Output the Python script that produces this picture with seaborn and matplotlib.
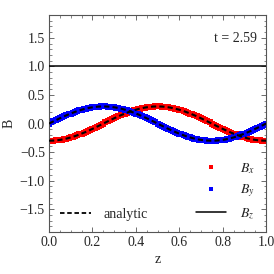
import matplotlib
matplotlib.use("Agg")
import matplotlib.pyplot as plt
import pandas as pd
import seaborn as sns
from matplotlib.ticker import MultipleLocator
from matplotlib.lines import Line2D

# sampled field components, z = 0.00 .. 1.00 step 0.01
z = [round(0.01 * k, 2) for k in range(101)]
bx = [-0.300, -0.299, -0.298, -0.295, -0.291, -0.285, -0.279, -0.271, -0.263, -0.253,
      -0.243, -0.231, -0.219, -0.205, -0.191, -0.176, -0.161, -0.145, -0.128, -0.110,
      -0.093, -0.075, -0.056, -0.038, -0.019, 0.000,
      0.019, 0.038, 0.056, 0.075, 0.093, 0.110, 0.128, 0.145, 0.161, 0.176,
      0.191, 0.205, 0.219, 0.231, 0.243, 0.253, 0.263, 0.271, 0.279, 0.285,
      0.291, 0.295, 0.298, 0.299, 0.300,
      0.299, 0.298, 0.295, 0.291, 0.285, 0.279, 0.271, 0.263, 0.253, 0.243,
      0.231, 0.219, 0.205, 0.191, 0.176, 0.161, 0.145, 0.128, 0.110, 0.093,
      0.075, 0.056, 0.038, 0.019, 0.000,
      -0.019, -0.038, -0.056, -0.075, -0.093, -0.110, -0.128, -0.145, -0.161, -0.176,
      -0.191, -0.205, -0.219, -0.231, -0.243, -0.253, -0.263, -0.271, -0.279, -0.285,
      -0.291, -0.295, -0.298, -0.299, -0.300]
by = [0.000, 0.019, 0.038, 0.056, 0.075, 0.093, 0.110, 0.128, 0.145, 0.161,
      0.176, 0.191, 0.205, 0.219, 0.231, 0.243, 0.253, 0.263, 0.271, 0.279,
      0.285, 0.291, 0.295, 0.298, 0.299, 0.300,
      0.299, 0.298, 0.295, 0.291, 0.285, 0.279, 0.271, 0.263, 0.253, 0.243,
      0.231, 0.219, 0.205, 0.191, 0.176, 0.161, 0.145, 0.128, 0.110, 0.093,
      0.075, 0.056, 0.038, 0.019, 0.000,
      -0.019, -0.038, -0.056, -0.075, -0.093, -0.110, -0.128, -0.145, -0.161, -0.176,
      -0.191, -0.205, -0.219, -0.231, -0.243, -0.253, -0.263, -0.271, -0.279, -0.285,
      -0.291, -0.295, -0.298, -0.299, -0.300,
      -0.299, -0.298, -0.295, -0.291, -0.285, -0.279, -0.271, -0.263, -0.253, -0.243,
      -0.231, -0.219, -0.205, -0.191, -0.176, -0.161, -0.145, -0.128, -0.110, -0.093,
      -0.075, -0.056, -0.038, -0.019, 0.000]
bz = [1.0] * len(z)
time_label = "t = 2.59"

sns.set_style("ticks")
plt.rcParams["font.family"] = ["Liberation Serif", "DejaVu Serif"]
plt.rcParams["mathtext.fontset"] = "stix"
plt.rcParams["font.size"] = 10

df = pd.DataFrame({"z": z, "Bx": bx, "By": by, "Bz": bz})
dash = (0, (2.5, 1.5))

fig = plt.figure(figsize=(2.74, 2.74), dpi=100)
ax = fig.add_axes([0.179, 0.153, 0.792, 0.792])

sns.scatterplot(data=df, x="z", y="Bx", ax=ax, marker="s", color="red", s=16,
                linewidth=0, zorder=1)
sns.scatterplot(data=df, x="z", y="By", ax=ax, marker="s", color="blue", s=16,
                linewidth=0, zorder=1)
# analytic curves (dashed) drawn over the samples
ax.plot(df["z"], df["Bx"], color="black", lw=1.5, ls=dash, zorder=5)
ax.plot(df["z"], df["By"], color="black", lw=1.5, ls=dash, zorder=5)
sns.lineplot(data=df, x="z", y="Bz", ax=ax, color="black", linewidth=1.1,
             estimator=None, zorder=4)

ax.set_xlim(0, 1)
ax.set_ylim(-1.9, 1.9)
ax.xaxis.set_major_locator(MultipleLocator(0.2))
ax.xaxis.set_minor_locator(MultipleLocator(0.05))
ax.yaxis.set_major_locator(MultipleLocator(0.5))
ax.yaxis.set_minor_locator(MultipleLocator(0.1))
ax.tick_params(which="both", direction="in", top=True, right=True, labelsize=10,
               color="#555555", pad=3)
ax.tick_params(which="major", length=3.5, width=0.6)
ax.tick_params(which="minor", length=1.8, width=0.5)
for sp in ax.spines.values():
    sp.set_color("#555555")
    sp.set_linewidth(0.8)
ax.set_xlabel("z", fontsize=10, labelpad=3)
ax.set_ylabel("B", fontsize=10, labelpad=3)

ax.text(0.96, 0.89, time_label, transform=ax.transAxes, ha="right", va="center",
        fontsize=10)

h_comp = [
    Line2D([], [], ls="none", marker="s", ms=3.5, color="red", mew=0),
    Line2D([], [], ls="none", marker="s", ms=3.5, color="blue", mew=0),
    Line2D([], [], color="black", lw=1.1),
]
leg1 = ax.legend(h_comp, ["$B_x$", "$B_y$", "$B_z$"], loc="lower right",
                 frameon=False, fontsize=10, handlelength=2.2, handletextpad=1.0,
                 labelspacing=0.5, borderaxespad=0.4)
ax.add_artist(leg1)
h_an = [Line2D([], [], color="black", lw=1.3, ls=dash)]
ax.legend(h_an, ["analytic"], loc="lower left", frameon=False, fontsize=10,
          handlelength=2.2, handletextpad=0.9, borderaxespad=0.4)

fig.savefig("out.png", dpi=100)
